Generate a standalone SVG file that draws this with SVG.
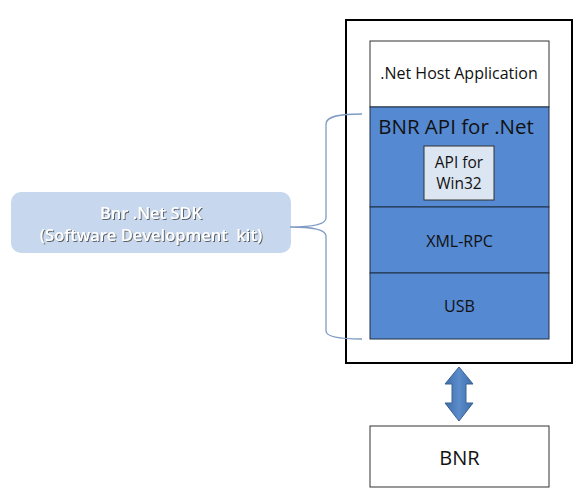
<svg xmlns="http://www.w3.org/2000/svg" width="584" height="496" viewBox="0 0 584 496">
<defs>
<linearGradient id="ag" x1="0" y1="0" x2="1" y2="0">
<stop offset="0" stop-color="#3f6ea8"/>
<stop offset="0.5" stop-color="#5b8ccb"/>
<stop offset="1" stop-color="#3f6ea8"/>
</linearGradient>
<filter id="sh" x="-10%" y="-30%" width="120%" height="160%">
<feDropShadow dx="1" dy="1" stdDeviation="0.7" flood-color="#444" flood-opacity="0.8"/>
</filter>
</defs>
<style>
.t{font-family:"Open Sans","Liberation Sans",sans-serif;fill:#111;text-anchor:middle}
.blue{fill:#5589d1;stroke:#1f2f45;stroke-width:1}
.white{fill:#fff;stroke:#333;stroke-width:1}
</style>
<rect width="584" height="496" fill="#fff"/>
<g id="outer"><rect x="346" y="20" width="226" height="343" fill="#fff" stroke="#000" stroke-width="2"/></g>
<g id="host"><rect class="white" x="370" y="41" width="179" height="66"/><text class="t" x="459" y="79" font-size="16">.Net Host Application</text></g>
<g id="bnrapi"><rect class="blue" x="370" y="107" width="179" height="100"/><text class="t" x="456" y="134" font-size="20.5">BNR API for .Net</text></g>
<g id="win32"><rect x="424" y="146" width="70" height="54" fill="#dce6f2" stroke="#333" stroke-width="1"/><text class="t" x="459" y="168" font-size="15.5">API for</text><text class="t" x="459" y="189" font-size="15.5">Win32</text></g>
<g id="xmlrpc"><rect class="blue" x="370" y="207" width="179" height="66"/><text class="t" x="459.5" y="247" font-size="16">XML-RPC</text></g>
<g id="usb"><rect class="blue" x="370" y="273" width="179" height="66"/><text class="t" x="459.5" y="312" font-size="16">USB</text></g>
<g id="bnr"><rect class="white" x="370" y="426" width="179" height="61"/><text class="t" x="459.5" y="465" font-size="20">BNR</text></g>
<g id="sdk"><rect x="11" y="192" width="280" height="61" rx="10" fill="#c6d7ee"/><text class="t" x="151" y="219" font-size="16.5" font-weight="600" style="fill:#fff" filter="url(#sh)">Bnr .Net SDK</text><text class="t" x="151" y="241" font-size="16.5" font-weight="600" style="fill:#fff;white-space:pre" filter="url(#sh)">(Software Development  kit)</text></g>
<g id="connectors">
<path d="M362,114 C340,114 326,116 326,124 L326,218 C326,225 310,227 290,227 C310,227 326,229 326,236 L326,331 C326,337 340,339 362,339" fill="none" stroke="#7f9bc2" stroke-width="1.3"/>
<path d="M459,367 L473,384 L466,384 L466,403 L473,403 L459,421 L445,403 L452,403 L452,384 L445,384 Z" fill="url(#ag)" stroke="#3a6294" stroke-width="1"/>
</g>
</svg>
